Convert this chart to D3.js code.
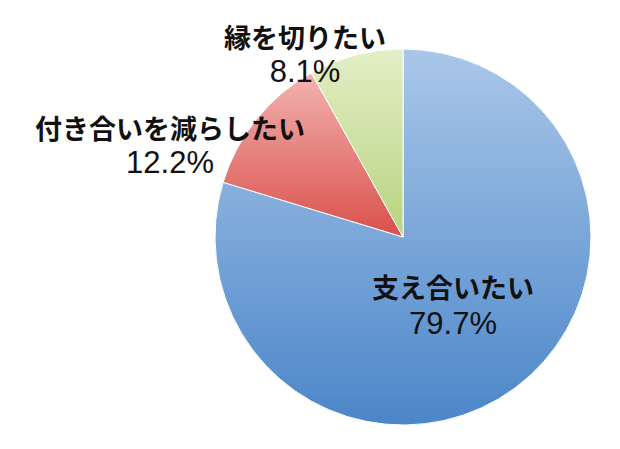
<!DOCTYPE html><html><head><meta charset="utf-8">
<script src="https://cdn.jsdelivr.net/npm/d3@7"></script>
<style>body{margin:0;background:#fff}</style></head><body>
<script>
const categories=["支え合いたい","付き合いを減らしたい","縁を切りたい"];
const values=[79.7,12.2,8.1];
const valueLabels=["79.7%","12.2%","8.1%"];
const W=620,H=449,cx=403,cy=237,R=188;
const svg=d3.select("body").append("svg").attr("width",W).attr("height",H);
const defs=svg.append("defs");
const grads=[["#aac7e9","#4b86c9"],["#f3b3b0","#d9504b"],["#e3eec6","#b7d37f"]];
grads.forEach((g,i)=>{const lg=defs.append("linearGradient").attr("id","g"+i).attr("x1",0).attr("y1",0).attr("x2",0).attr("y2",1);
lg.append("stop").attr("offset","0%").attr("stop-color",g[0]);lg.append("stop").attr("offset","100%").attr("stop-color",g[1]);});
const pie=d3.pie().sort(null).value(d=>d)(values);
const arc=d3.arc().innerRadius(0).outerRadius(R);
const g=svg.append("g").attr("transform",`translate(${cx},${cy})`);
g.selectAll("path").data(pie).join("path").attr("d",arc).attr("fill",(d,i)=>`url(#g${i})`).attr("stroke","#fff").attr("stroke-width",1);
const pos=[[453,298,334],[170,139,173],[305,48,82]];
const t=svg.append("g").attr("font-family","'Noto Sans CJK JP',sans-serif").attr("font-size",27).attr("font-weight",700).attr("text-anchor","middle").attr("fill","#111");
categories.forEach((c,i)=>{t.append("text").attr("x",pos[i][0]).attr("y",pos[i][1]).text(c);
t.append("text").attr("x",pos[i][0]).attr("y",pos[i][2]).attr("font-size",31).attr("font-weight",400).attr("font-family","Arial,'Liberation Sans',sans-serif").text(valueLabels[i]);});
</script></body></html>
